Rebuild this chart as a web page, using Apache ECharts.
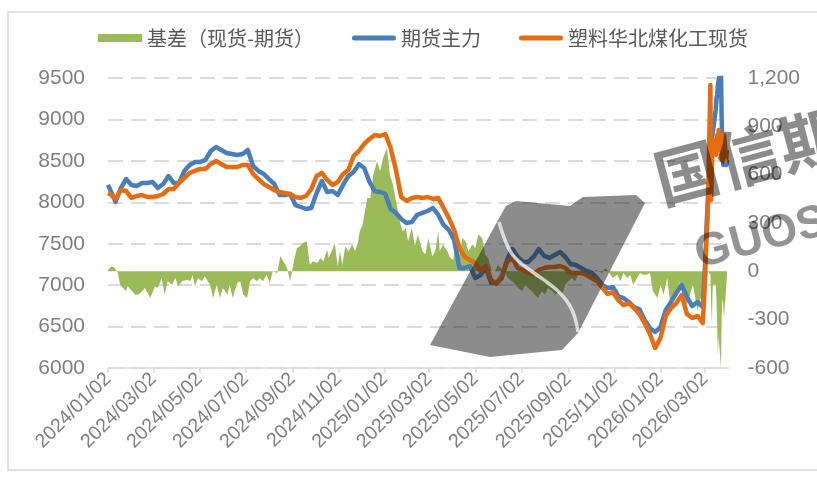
<!DOCTYPE html>
<html><head><meta charset="utf-8">
<script src="https://cdn.jsdelivr.net/npm/echarts@6/dist/echarts.min.js"></script>
<style>html,body{margin:0;padding:0;background:#fff}#c{width:817px;height:478px}</style>
</head><body><div id="c"></div>
<script>
const seriesNames = ['基差（现货-期货）', '期货主力', '塑料华北煤化工现货'];
const tickLabels = ['2024/01/02','2024/03/02','2024/05/02','2024/07/02','2024/09/02','2024/11/02',
  '2025/01/02','2025/03/02','2025/05/02','2025/07/02','2025/09/02','2025/11/02','2026/01/02','2026/03/02'];

// dates for the two price lines
const dates = ['2024-01-02',
 '2024-01-05','2024-01-12','2024-01-19','2024-01-26','2024-02-02','2024-02-09','2024-02-16','2024-02-23','2024-03-01','2024-03-08',
 '2024-03-15','2024-03-22','2024-03-29','2024-04-05','2024-04-12','2024-04-19','2024-04-26','2024-05-03','2024-05-10','2024-05-17',
 '2024-05-24','2024-05-31','2024-06-07','2024-06-14','2024-06-21','2024-06-28','2024-07-05','2024-07-12','2024-07-19','2024-07-26',
 '2024-08-02','2024-08-09','2024-08-16','2024-08-23','2024-08-30','2024-09-06','2024-09-13','2024-09-20','2024-09-27','2024-10-04',
 '2024-10-11','2024-10-18','2024-10-25','2024-11-01','2024-11-08','2024-11-15','2024-11-22','2024-11-29','2024-12-06','2024-12-13',
 '2024-12-20','2024-12-27','2025-01-03','2025-01-10','2025-01-17','2025-01-24','2025-01-31','2025-02-07','2025-02-14','2025-02-21',
 '2025-02-28','2025-03-07','2025-03-14','2025-03-21','2025-03-28','2025-04-04','2025-04-11','2025-04-18','2025-04-25','2025-05-02',
 '2025-05-09','2025-05-16','2025-05-23','2025-05-30','2025-06-06','2025-06-13','2025-06-20','2025-06-27','2025-07-04','2025-07-11',
 '2025-07-18','2025-07-25','2025-08-01','2025-08-08','2025-08-15','2025-08-22','2025-08-29','2025-09-05','2025-09-12','2025-09-19',
 '2025-09-26','2025-10-03','2025-10-10','2025-10-17','2025-10-24','2025-10-31','2025-11-07','2025-11-14','2025-11-21','2025-11-28',
 '2025-12-05','2025-12-12','2025-12-19','2025-12-26','2026-01-02','2026-01-09','2026-01-16','2026-01-23','2026-01-30','2026-02-06',
 '2026-02-13','2026-02-20','2026-02-27',
 '2026-03-02','2026-03-03','2026-03-04','2026-03-05','2026-03-06','2026-03-09','2026-03-10','2026-03-11','2026-03-12','2026-03-13',
 '2026-03-16','2026-03-17','2026-03-18','2026-03-19','2026-03-20','2026-03-23','2026-03-24','2026-03-25','2026-03-26','2026-03-27',
 '2026-03-30','2026-03-31'];

const futures = [8210,
 8148,8004,8172,8281,8209,8197,8233,8233,8245,8172,
 8221,8317,8233,8233,8378,8450,8486,8486,8511,8619,
 8667,8631,8595,8583,8571,8583,8631,8438,8378,8342,
 8281,8221,8088,8088,8100,7967,7943,7919,7931,8112,
 8257,8124,8136,8088,8209,8317,8366,8462,8414,8245,
 8136,8124,8100,7919,7871,7798,7750,7762,7847,7871,
 7895,7931,7847,7726,7666,7545,7207,7207,7231,7086,
 7123,7207,7026,7026,7086,7304,7436,7340,7280,7280,
 7340,7436,7352,7328,7364,7400,7340,7255,7243,7207,
 7171,7147,7086,7002,6966,6978,6869,6845,6797,6736,
 6712,6579,6483,6435,6495,6700,6797,6905,7002,6857,
 6748,6797,6736,
 7243,7424,7726,7907,8088,8450,8631,8752,8836,8897,
 9114,9235,9295,9416,9476,9600,8993,8631,8450,8511,
 8450,8511];

const spot = [8110,
 8100,8040,8148,8136,8052,8076,8088,8064,8064,8076,
 8100,8160,8160,8233,8293,8354,8378,8402,8402,8462,
 8498,8462,8426,8426,8426,8450,8450,8342,8281,8221,
 8185,8148,8124,8112,8100,8064,8052,8076,8160,8317,
 8354,8269,8209,8245,8342,8390,8559,8619,8704,8764,
 8812,8800,8824,8655,8390,8064,8016,8052,8064,8052,
 8064,8040,8052,7931,7810,7666,7448,7340,7304,7267,
 7171,7231,7062,7014,7110,7280,7328,7207,7183,7147,
 7135,7183,7207,7219,7219,7231,7207,7147,7147,7147,
 7123,7086,7050,6966,6893,6917,6821,6760,6784,6724,
 6652,6543,6410,6241,6362,6628,6724,6784,6881,6652,
 6603,6628,6543,
 7062,7364,7605,7726,8028,9416,8028,8390,8752,8631,
 8752,8571,8812,8631,8873,8752,8511,8752,8631,8812,
 8511,8631];

// basis (spot - futures) read at its own, denser dates
const basisDates = [
 '2024-01-02','2024-01-07','2024-01-11','2024-01-15','2024-01-18','2024-01-22','2024-01-26','2024-01-28','2024-02-03','2024-02-07',
 '2024-02-11','2024-02-16','2024-02-20','2024-02-27','2024-02-29','2024-03-04','2024-03-08','2024-03-13','2024-03-17','2024-03-21',
 '2024-03-27','2024-03-31','2024-04-04','2024-04-09','2024-04-16','2024-04-20','2024-04-23','2024-04-26','2024-04-30','2024-05-05',
 '2024-05-09','2024-05-16','2024-05-20','2024-05-25','2024-05-29','2024-06-02','2024-06-08','2024-06-11','2024-06-15','2024-06-21',
 '2024-06-25','2024-06-29','2024-07-04','2024-07-08','2024-07-12','2024-07-17','2024-07-21','2024-07-25','2024-07-30','2024-08-03',
 '2024-08-07','2024-08-13','2024-08-17','2024-08-21','2024-08-26','2024-08-30','2024-09-03','2024-09-08','2024-09-12','2024-09-16',
 '2024-09-21','2024-09-25','2024-09-29','2024-10-05','2024-10-09','2024-10-13','2024-10-18','2024-10-20','2024-10-24','2024-10-28',
 '2024-11-01','2024-11-04','2024-11-07','2024-11-11','2024-11-15','2024-11-20','2024-11-24','2024-11-28','2024-11-30','2024-12-04',
 '2024-12-10','2024-12-14','2024-12-18','2024-12-23','2024-12-27','2024-12-31','2025-01-05','2025-01-09','2025-01-13','2025-01-18',
 '2025-01-22','2025-01-26','2025-01-30','2025-02-02','2025-02-07','2025-02-11','2025-02-15','2025-02-21','2025-02-25','2025-03-01',
 '2025-03-06','2025-03-10','2025-03-14','2025-03-16','2025-03-20','2025-03-26','2025-03-30','2025-04-03','2025-04-07','2025-04-11',
 '2025-04-15','2025-04-19','2025-04-23','2025-04-28','2025-05-02','2025-05-06','2025-05-11','2025-05-15','2025-05-19','2025-05-24',
 '2025-05-28','2025-06-01','2025-06-07','2025-06-10','2025-06-14','2025-06-20','2025-06-24','2025-06-28','2025-07-03','2025-07-07',
 '2025-07-11','2025-07-16','2025-07-20','2025-07-24','2025-07-29','2025-08-02','2025-08-06','2025-08-12','2025-08-16','2025-08-20',
 '2025-08-25','2025-08-29','2025-09-02','2025-09-07','2025-09-11','2025-09-15','2025-09-20','2025-09-24','2025-09-28','2025-10-04',
 '2025-10-08','2025-10-12','2025-10-17','2025-10-21','2025-10-25','2025-10-27','2025-10-31','2025-11-06','2025-11-10','2025-11-14',
 '2025-11-19','2025-11-23','2025-11-27','2025-12-02','2025-12-06','2025-12-10','2025-12-15','2025-12-19','2025-12-23','2025-12-29',
 '2026-01-02','2026-01-06','2026-01-11','2026-01-15','2026-01-19','2026-01-24','2026-01-28','2026-02-01','2026-02-06','2026-02-10',
 '2026-02-14','2026-02-20','2026-02-24','2026-02-28',
 '2026-03-02','2026-03-03','2026-03-04','2026-03-05','2026-03-06','2026-03-09','2026-03-10','2026-03-11','2026-03-12','2026-03-13',
 '2026-03-16','2026-03-17','2026-03-18','2026-03-19','2026-03-20','2026-03-23','2026-03-24','2026-03-25','2026-03-26','2026-03-27',
 '2026-03-30','2026-03-31'];

const basisValues = [
 10,31,21,-10,-83,-104,-124,-93,-124,-145,
 -145,-124,-104,-166,-176,-93,-104,-41,-145,-62,
 -83,-41,-93,-62,-52,-62,-21,-93,-41,-62,
 -31,-83,-166,-83,-166,-104,-145,-83,-166,-72,
 -62,-145,-166,-62,-41,-62,-41,-62,-21,-72,
 0,-10,93,62,21,-62,41,145,155,176,
 186,41,62,52,83,62,135,83,124,176,
 31,124,41,155,124,166,124,186,248,290,
 455,455,600,683,621,704,766,600,538,414,
 311,248,269,186,269,155,228,124,104,207,
 93,124,248,124,166,124,83,72,248,104,
 207,186,124,166,145,228,207,104,83,0,
 0,41,10,0,-41,-62,-83,-104,-124,-83,
 -104,-124,-145,-166,-124,-145,-104,-124,-145,-124,
 -145,-83,-62,-41,-62,-21,0,-21,0,-10,
 10,0,-10,21,0,0,-41,-21,-62,-10,
 -41,-21,-83,-41,-10,-21,-21,-10,-124,-166,
 -83,-145,-41,-207,-166,-145,-62,-166,-207,-145,
 -83,-248,-166,-166,
 -150,-100,-60,-20,0,-20,-200,-330,-100,-80,
 -83,-166,-166,-518,-400,-600,-290,-166,-200,-290,
 -100,-20];

const DAY = 86400000;
const T0 = Date.UTC(2024, 0, 2);
function dayOf(s) {
  const p = s.split(/[-\/]/).map(Number);
  return Math.round((Date.UTC(p[0], p[1] - 1, p[2]) - T0) / DAY);
}
const tickDays = tickLabels.map(dayOf);
const labelMap = {};
tickDays.forEach((d, i) => { labelMap[d] = tickLabels[i]; });
const pairs = (ds, arr) => ds.map((d, i) => [dayOf(d), arr[i]]);
const commas = v => String(v).replace(/\B(?=(\d{3})+(?!\d))/g, ',');

const chart = echarts.init(document.getElementById('c'), null, {renderer: 'canvas'});
const labelColor = '#7f7f7f';
const numFont = 'Liberation Sans, Arial, sans-serif';
const wm = 'rgba(25,25,25,0.5)';
const lineIcon = 'path://M2.5,0 L41.5,0 A2.5,2.5 0 0 1 41.5,5 L2.5,5 A2.5,2.5 0 0 1 2.5,0 Z';

chart.setOption({
  animation: false,
  backgroundColor: '#fff',
  grid: {left: 108, right: 88.5, top: 78, bottom: 110, outerBoundsMode: 'none'},
  legend: {
    left: 98, top: 28, padding: 0, itemWidth: 44, itemHeight: 8, itemGap: 38,
    textStyle: {fontSize: 20, color: '#595959', fontFamily: 'Noto Sans CJK SC'},
    data: [{name: seriesNames[0], icon: 'rect'}, {name: seriesNames[1], icon: lineIcon}, {name: seriesNames[2], icon: lineIcon}]
  },
  xAxis: {
    type: 'value', min: 0, max: 821,
    axisLine: {show: true, onZero: false, lineStyle: {color: '#d9d9d9', width: 1.5}},
    axisTick: {show: true, customValues: tickDays, length: 5, lineStyle: {color: '#d9d9d9', width: 1.5}},
    axisLabel: {customValues: tickDays, formatter: v => labelMap[Math.round(v)] || '', rotate: 45, margin: 8,
      fontSize: 19.5, color: labelColor, fontFamily: numFont},
    splitLine: {show: false}
  },
  yAxis: [{
    type: 'value', min: 6000, max: 9500, interval: 500,
    axisLine: {show: false}, axisTick: {show: false},
    axisLabel: {formatter: v => String(v), fontSize: 21, color: labelColor, margin: 23, fontFamily: numFont},
    splitLine: {show: true, lineStyle: {type: [15, 8], color: '#d0d0d0', width: 1.5}}
  }, {
    type: 'value', min: -600, max: 1200, interval: 300, position: 'right',
    axisLine: {show: false}, axisTick: {show: false},
    axisLabel: {formatter: v => commas(v), fontSize: 21, color: labelColor, margin: 19, fontFamily: numFont},
    splitLine: {show: false}
  }],
  series: [{
    name: seriesNames[0], type: 'line', yAxisIndex: 1, data: pairs(basisDates, basisValues), symbol: 'none', z: 1,
    lineStyle: {width: 0, color: '#9BBB59'}, itemStyle: {color: '#9BBB59'},
    areaStyle: {color: '#9BBB59', opacity: 1}
  }, {
    name: seriesNames[1], type: 'line', data: pairs(dates, futures), symbol: 'none', z: 2,
    lineStyle: {width: 4.5, color: '#4A7EBB', join: 'round'}, itemStyle: {color: '#4A7EBB'}
  }, {
    name: seriesNames[2], type: 'line', data: pairs(dates, spot), symbol: 'none', z: 3,
    lineStyle: {width: 4.5, color: '#E66C12', join: 'round'}, itemStyle: {color: '#E66C12'}
  }],
  graphic: [
    {type: 'rect', z: 0, silent: true, shape: {x: 8, y: 12, width: 900, height: 458},
      style: {fill: 'none', stroke: '#d9d9d9', lineWidth: 1.5}},
    {type: 'polygon', z: 100, silent: true,
      shape: {points: [[430,345],[497,222],[506,206],[516,201],[570,206],[583,197],[636,195],[645,203],[578,333],[562,350],[490,357]]},
      style: {fill: wm}},
    {type: 'polyline', z: 101, silent: true,
      shape: {points: [[499,222],[505,240],[512,254],[522,264],[534,273],[548,283],[561,294],[570,306],[575,318],[578,332]], smooth: 0.4},
      style: {stroke: 'rgba(255,255,255,0.7)', lineWidth: 3.5, fill: 'none'}},
    {type: 'text', z: 102, silent: true, x: 664, y: 212, rotation: 0.26,
      style: {text: '国信期货', fill: 'rgba(0,0,0,0.45)', font: 'bold 64px "Noto Sans CJK SC"', textVerticalAlign: 'bottom'}},
    {type: 'text', z: 102, silent: true, x: 702, y: 278, rotation: 0.26,
      style: {text: 'GUOSEN', fill: 'rgba(0,0,0,0.42)', font: 'bold 46px "Liberation Sans"', textVerticalAlign: 'bottom'}}
  ]
});
</script>
</body></html>
